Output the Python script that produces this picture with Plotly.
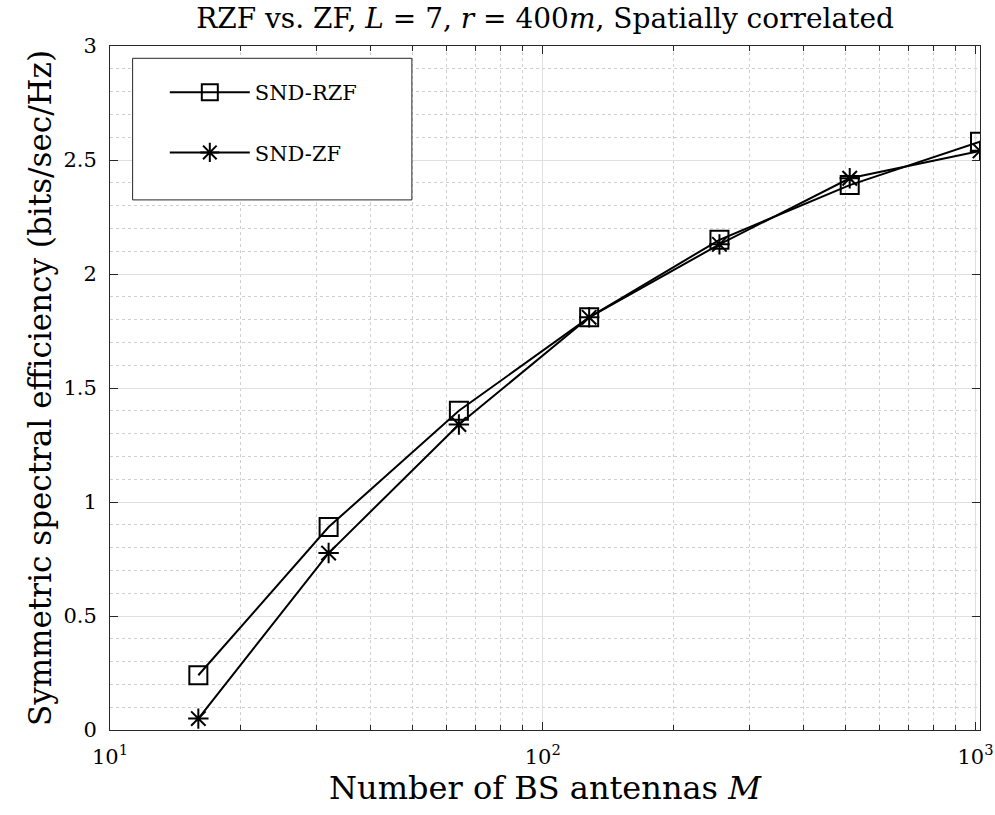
import plotly.graph_objects as go
import numpy as np

M = [16, 32, 64, 128, 256, 512, 1024]
rzf = [0.24, 0.89, 1.40, 1.81, 2.15, 2.39, 2.58]
zf = [0.05, 0.776, 1.34, 1.81, 2.13, 2.42, 2.54]

x_major = [10, 100, 1000]
x_major_text = ["10<sup>1</sup>", "10<sup>2</sup>", "10<sup>3</sup>"]
x_minor = [m * d for d in (10, 100) for m in range(2, 10)]
y_major = [0, 0.5, 1, 1.5, 2, 2.5, 3]
y_major_text = ["0", "0.5", "1", "1.5", "2", "2.5", "3"]

FONT = "DejaVu Serif"
AX = "#262626"

fig = go.Figure()
fig.add_trace(go.Scatter(
    x=M, y=rzf, mode="lines+markers", name="SND-RZF", legendgroup="a",
    line=dict(color="black", width=2),
    marker=dict(symbol="square-open", size=18, color="black", line=dict(width=2)),
))
fig.add_trace(go.Scatter(
    x=M, y=zf, mode="lines+markers", name="SND-ZF", legendgroup="b",
    line=dict(color="black", width=2),
    marker=dict(symbol="asterisk-open", size=17, color="black", line=dict(width=2, color="black")),
))

# legend frame
fig.add_shape(type="rect", xref="paper", yref="paper", x0=0.026, x1=0.347, y0=0.775, y1=0.982,
              fillcolor="white", line=dict(color=AX, width=1), layer="above")

fig.update_layout(
    width=995, height=815,
    margin=dict(l=110, r=15, t=46, b=85, autoexpand=False),
    paper_bgcolor="white", plot_bgcolor="white",
    font=dict(family=FONT, color="black", size=21),
    title=dict(text="RZF vs. ZF, <i>L</i> = 7, <i>r</i> = 400<i>m</i>, Spatially correlated",
               x=0.5, xanchor="center", xref="paper", y=0.99, yanchor="top",
               font=dict(family=FONT, size=28, color="black")),
    legend=dict(x=0.063, y=0.962, xanchor="left", yanchor="top",
                bgcolor="rgba(0,0,0,0)", borderwidth=0,
                font=dict(family=FONT, size=21, color="black"),
                tracegroupgap=30, itemwidth=80),
    showlegend=True,
)
fig.update_xaxes(
    type="log", range=[1, np.log10(1024)], automargin=False,
    tickmode="array", tickvals=x_major, ticktext=x_major_text,
    ticks="inside", ticklen=8, tickcolor=AX, tickwidth=1,
    showline=True, linecolor=AX, linewidth=1, mirror="ticks",
    showgrid=True, gridcolor="#dfdfdf", gridwidth=1,
    minor=dict(tickmode="array", tickvals=x_minor, ticks="inside", ticklen=5,
               tickcolor=AX, showgrid=True, gridcolor="#cfcfcf", griddash="dot", gridwidth=1),
    tickfont=dict(family=FONT, size=21),
    ticklabelstandoff=8,
    title=dict(text="Number of BS antennas <i>M</i>", font=dict(family=FONT, size=32), standoff=4),
    zeroline=False,
)
fig.update_yaxes(
    range=[0, 3], automargin=False,
    tickmode="array", tickvals=y_major, ticktext=y_major_text,
    ticks="inside", ticklen=8, tickcolor=AX, tickwidth=1,
    showline=True, linecolor=AX, linewidth=1, mirror="ticks",
    showgrid=True, gridcolor="#dfdfdf", gridwidth=1,
    minor=dict(dtick=0.1, tick0=0, ticks="", showgrid=True, gridcolor="#cfcfcf",
               griddash="dot", gridwidth=1),
    tickfont=dict(family=FONT, size=21),
    ticklabelstandoff=8,
    title=dict(text="Symmetric spectral efficiency (bits/sec/Hz)", font=dict(family=FONT, size=31), standoff=2),
    zeroline=False,
)

fig.write_html("out.html")
